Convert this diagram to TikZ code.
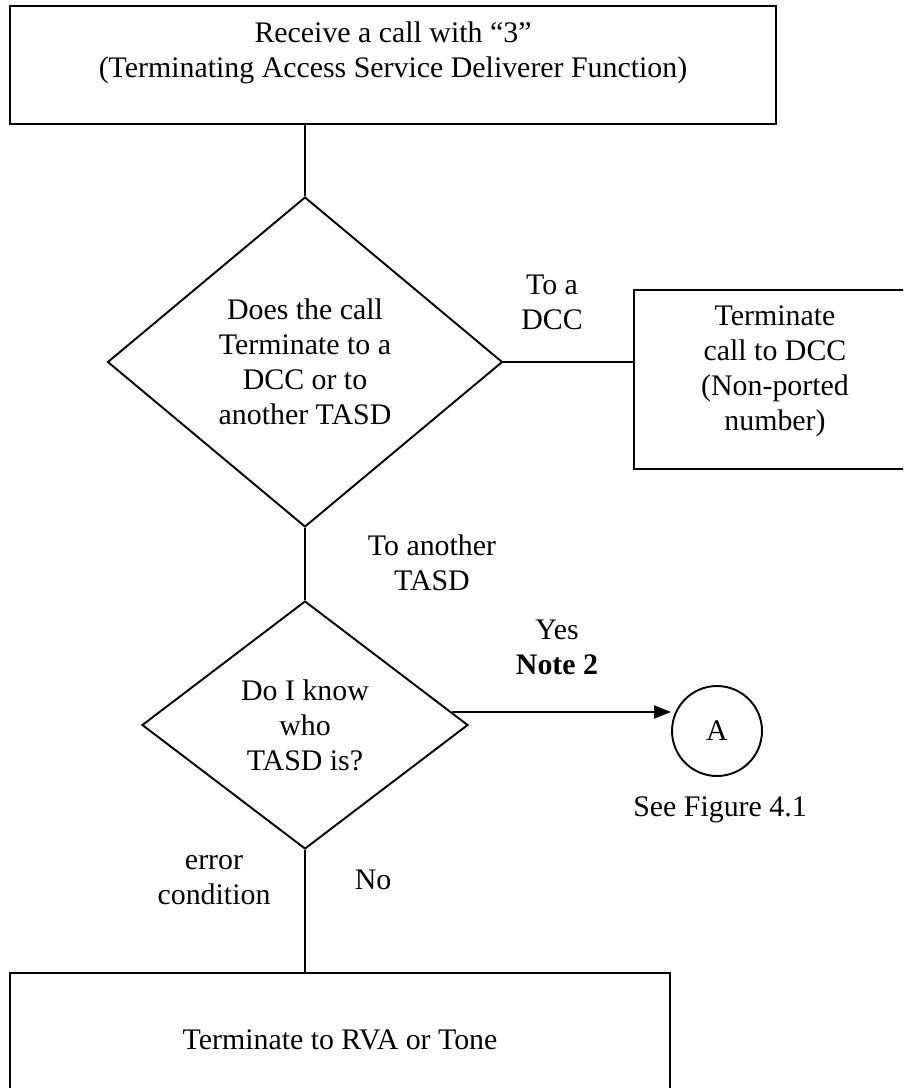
\documentclass[tikz,border=0pt]{standalone}
\usepackage{fontspec}
\setmainfont{Liberation Serif}
\usetikzlibrary{shapes.geometric,arrows.meta}
\begin{document}
\begin{tikzpicture}[x=0.02cm,y=-0.02cm,
  font=\fontsize{17}{19.9}\selectfont,
  box/.style={draw, line width=1.4pt, rectangle, inner sep=0pt},
  decision/.style={draw, line width=1.1pt, diamond, inner sep=0pt, align=center},
  flow/.style={line width=1.1pt},
  arrow/.style={flow, -{Triangle[length=0.34cm,width=0.26cm]}},
  lbl/.style={align=center, inner sep=0pt},
  connector/.style={draw, circle, line width=1.1pt, inner sep=0pt, minimum size=1.8cm}]
\clip (0,0) rectangle (903,1088);
\fill[white] (0,0) rectangle (903,1088);

% entry box
\node[box, minimum width=15.32cm, minimum height=2.36cm] (start) at (393,65) {};
\node[lbl] (starttext) at (393,53) {Receive a call with “3”\\(Terminating Access Service Deliverer Function)};

% first decision
\node[decision, minimum width=7.9cm, minimum height=6.6cm] (q1) at (305,362)
  {Does the call\\Terminate to a\\DCC or to\\another TASD};

% terminate to DCC
\node[box, minimum width=5.64cm, minimum height=3.58cm] (dcc) at (775,379.5) {};
\node[lbl] (dcctext) at (775,371) {Terminate\\call to DCC\\(Non-ported\\number)};

% second decision
\node[decision, minimum width=6.52cm, minimum height=4.96cm] (q2) at (305,725)
  {Do I know\\who\\TASD is?};

% off-page connector
\node[connector] (A) at (717,731) {A};
\node[lbl] (seefig) at (720,810) {See Figure 4.1};

% final box
\node[box, minimum width=13.2cm, minimum height=2.68cm] (stop) at (340,1040) {Terminate to RVA or Tone};

% connectors
\draw[flow] (start.south -| q1.north) -- (q1.north);
\draw[flow] (q1.east) -- (q1.east -| dcc.west);
\draw[flow] (q1.south) -- (q2.north);
\path (q2.east) ++(-17,-13) coordinate (yesfrom);
\draw[arrow] (yesfrom) -- (yesfrom -| A.west);
\draw[flow] (q2.south) -- (q2.south |- stop.north);

% branch labels
\node[lbl] (ldcc) at (552,302.5) {To a\\DCC};
\node[lbl] (ltasd) at (432,562.5) {To another\\TASD};
\node[lbl] (lyes) at (557,647.5) {Yes\\\textbf{Note 2}};
\node[lbl] (lerr) at (214,880) {error\\condition};
\node[lbl] (lno) at (373,880) {No};
\end{tikzpicture}
\end{document}
